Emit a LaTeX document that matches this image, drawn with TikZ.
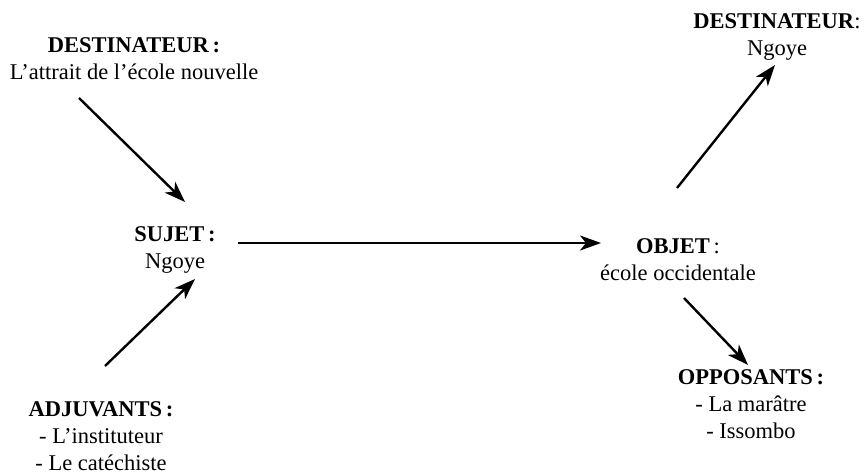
\documentclass[tikz,border=0pt]{standalone}
\usepackage{fontspec}
\setmainfont{Liberation Serif}
\usepackage{tikz}
\usetikzlibrary{arrows.meta, positioning}

\begin{document}
\begin{tikzpicture}[x=1pt, y=-1pt,
                lbl/.style={align=center, inner sep=0pt, anchor=base,
                    font=\fontsize{22.5}{27}\selectfont},
                arr/.style={line width=2.4pt, -{Stealth[length=21pt, width=15pt, inset=6pt]}}]
                \useasboundingbox (0,0) rectangle (867,476);
                % actants (anchored on the last line)
                \node[lbl] (dest1) at (134,80) {\textbf{DESTINATEUR\,:}\\L'attrait de l'école nouvelle};
                \node[lbl] (sujet) at (175,268) {\textbf{SUJET\,:}\\Ngoye};
                \node[lbl] (objet) at (678,280) {\textbf{OBJET}\,:\\école occidentale};
                \node[lbl] (dest2) at (777,56) {\textbf{DESTINATEUR}:\\Ngoye};
                \node[lbl] (opp) at (751,438) {\textbf{OPPOSANTS\,:}\\- La marâtre\\- Issombo};
                \node[lbl] (adj) at (101,470) {\textbf{ADJUVANTS\,:}\\- L'instituteur\\- Le catéchiste};
                % arrow ends
                \coordinate (a1) at (79,98);   \coordinate (b1) at (185,202);
                \coordinate (a2) at (105,366); \coordinate (b2) at (195,279);
                \coordinate (a3) at (238,243); \coordinate (b3) at (601,243);
                \coordinate (a4) at (677,188); \coordinate (b4) at (775,65);
                \coordinate (a5) at (684,298); \coordinate (b5) at (748,365);
                \draw[arr] (a1) -- (b1);
                \draw[arr] (a2) -- (b2);
                \draw[arr] (a3) -- (b3);
                \draw[arr] (a4) -- (b4);
                \draw[arr] (a5) -- (b5);
            \end{tikzpicture}
\end{document}
